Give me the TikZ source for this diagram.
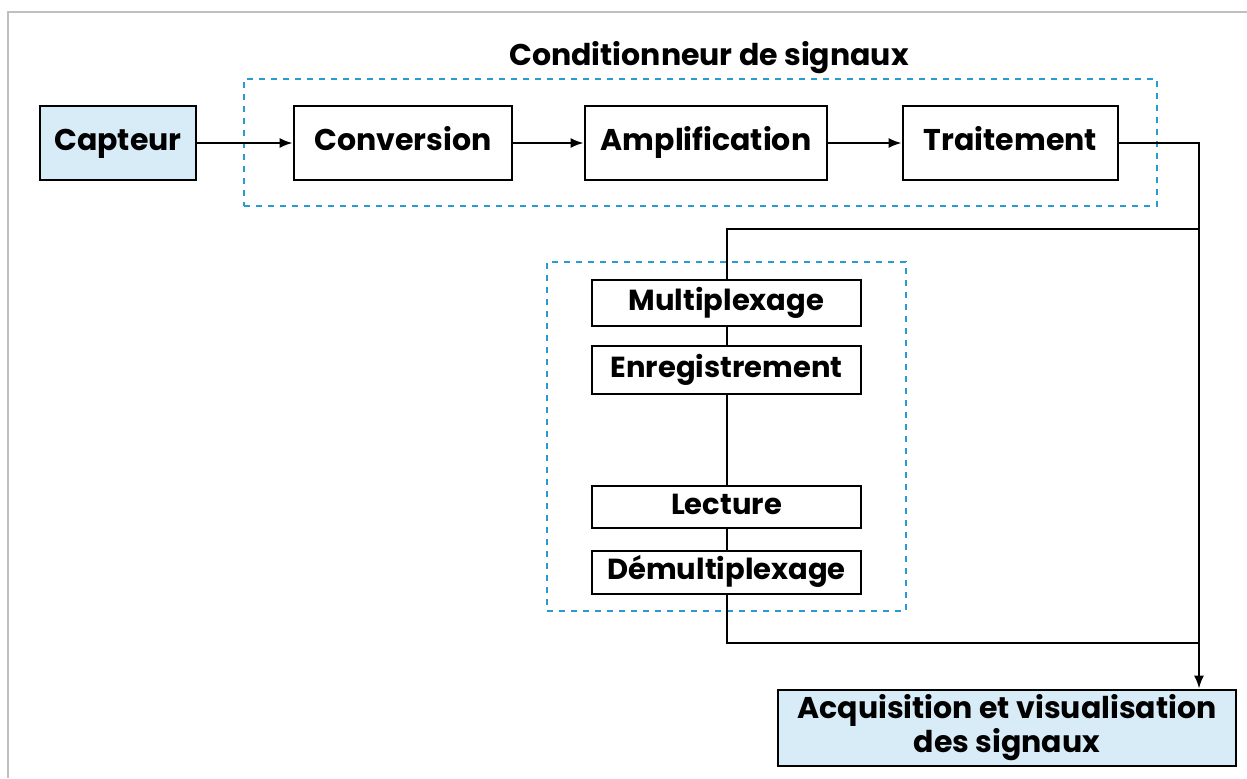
\documentclass[tikz,border=0pt]{standalone}
\usepackage{fontspec}
\setmainfont{Poppins}
\usetikzlibrary{arrows.meta}
\definecolor{cyanb}{HTML}{2A9BD0}
\definecolor{fillb}{HTML}{D8ECF8}
\begin{document}
\begin{tikzpicture}[
x=0.5pt,y=-0.5pt,
font=\bfseries\fontsize{15}{15}\selectfont,
>={Latex[length=6.5pt,width=5pt]}
]

\tikzstyle{b} = [draw, line width=1.4pt, shape=rectangle, minimum height=37pt, inner sep=0pt, text height=0.72em, text depth=0pt]
\tikzstyle{g} = [b, fill=fillb]
\tikzstyle{s} = [draw, line width=1pt, shape=rectangle, minimum width=134.5pt, inner sep=0pt, text height=0.72em, text depth=0pt, font=\bfseries\fontsize{14.5}{15}\selectfont]
\tikzstyle{dd} = [draw=cyanb, line width=1pt, dashed, shape=rectangle, inner sep=0pt]
\tikzstyle{w} = [line width=1pt]

\useasboundingbox (0,0) rectangle (1247,778);
\draw[black!25, line width=1pt] (8,778) |- (1247,12);

\node[dd, minimum width=456.5pt, minimum height=63.5pt] (cond) at (700.5,142.5) {};
\node (titre) at (709,58) {Conditionneur de signaux};
\node[dd, minimum width=179.5pt, minimum height=174.5pt] (mem) at (726.5,436.5) {};

\node[g, minimum width=78pt] (capteur) at (118,143) {Capteur};
\node[b, minimum width=109pt] (conv) at (403,143) {Conversion};
\node[b, minimum width=121pt] (ampli) at (706,143) {Amplification};
\node[b, minimum width=107.5pt] (trait) at (1010.5,143) {Traitement};

\node[s, minimum height=23pt] (mux) at (726.5,303) {Multiplexage};
\node[s, minimum height=24pt] (enreg) at (726.5,370) {Enregistrement};
\node[s, minimum height=21pt] (lect) at (726.5,507) {Lecture};
\node[s, minimum height=21.5pt] (demux) at (726.5,572.5) {Démultiplexage};

\node[draw, line width=1.4pt, fill=fillb, minimum width=229pt, minimum height=38pt, inner sep=0pt, align=center,
	font=\bfseries\fontsize{15}{14.5}\selectfont] (acq) at (1007,728)
	{Acquisition et visualisation\\des signaux};

\coordinate (k) at (1199,229);
\coordinate (m) at (1199,643);

\draw[w,->] (capteur) -- (conv);
\draw[w,->] (conv) -- (ampli);
\draw[w,->] (ampli) -- (trait);
\draw[w,->] (trait) -| (acq.north -| k);
\draw[w] (k) -| (mux);
\draw[w] (mux) -- (enreg);
\draw[w] (enreg) -- (lect);
\draw[w] (lect) -- (demux);
\draw[w] (demux) |- (m);
\end{tikzpicture}
\end{document}
